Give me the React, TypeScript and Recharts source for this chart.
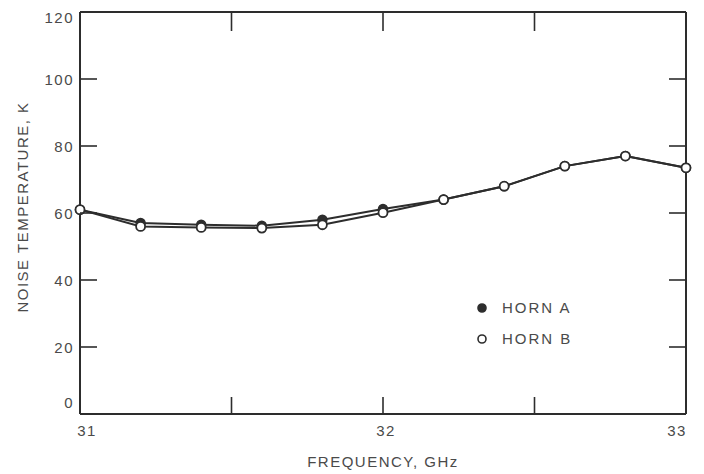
import React from 'react';
import { LineChart, Line, XAxis, YAxis, Legend } from 'recharts';

// ---- data ----
const frequencyGHz = [31.0, 31.2, 31.4, 31.6, 31.8, 32.0, 32.2, 32.4, 32.6, 32.8, 33.0];
const hornA = [61, 57, 56.5, 56.2, 58, 61.2, 64, 68, 74, 77, 73.5];
const hornB = [61, 56, 55.7, 55.5, 56.5, 60.1, 64, 68, 74, 77, 73.5];
const seriesNames = ['HORN A', 'HORN B'];
const xTickValues = [31, 31.5, 32, 32.5, 33];
const xLabelValues = [31, 32, 33];
const yTickValues = [0, 20, 40, 60, 80, 100, 120];
const xTitle = 'FREQUENCY, GHz';
const yTitle = 'NOISE TEMPERATURE, K';

const data = frequencyGHz.map((f, i) => ({ f, a: hornA[i], b: hornB[i] }));

// ---- styles ----
const INK = '#2d2d2d';
const TEXT = '#4a4a4a';
const FONT = '"Liberation Sans", Arial, Helvetica, sans-serif';
const TICK = 17;
const markerFill: Record<string, string> = { 'HORN A': INK, 'HORN B': '#ffffff' };
const axisLineStyle = { stroke: INK, strokeWidth: 2 };

const textStyle = { fontFamily: FONT, fontSize: 15, fill: TEXT, letterSpacing: 1.5 } as const;

function BottomTick(props: any) {
  const { x, y, payload } = props;
  const v = payload.value;
  const labelled = xLabelValues.includes(v);
  const dx = v === 31 ? 7 : v === 33 ? -9 : 3;
  return (
    <g>
      <path d={`M${x},${y}V${y - TICK}`} stroke={INK} strokeWidth={1.6} fill="none" />
      {labelled ? (
        <text x={x + dx} y={y + 22} textAnchor="middle" style={textStyle}>
          {v}
        </text>
      ) : null}
    </g>
  );
}

function TopTick(props: any) {
  const { x, y } = props;
  return <path d={`M${x},${y}V${y + TICK + 2}`} stroke={INK} strokeWidth={1.6} fill="none" />;
}

function LeftTick(props: any) {
  const { x, y, payload } = props;
  const v = payload.value;
  const dy = v === 0 ? -6.5 : v === 120 ? 10.5 : 5.5;
  return (
    <g>
      <path d={`M${x},${y}H${x + TICK}`} stroke={INK} strokeWidth={1.6} fill="none" />
      <text x={x - 6} y={y + dy} textAnchor="end" style={textStyle}>
        {v}
      </text>
    </g>
  );
}

function RightTick(props: any) {
  const { x, y } = props;
  return <path d={`M${x},${y}H${x - TICK}`} stroke={INK} strokeWidth={1.6} fill="none" />;
}

function YTitle(props: any) {
  const vb = props.viewBox || { x: 0, y: 12, width: 80, height: 402 };
  const cx = 22;
  const cy = vb.y + vb.height / 2 - 6;
  return (
    <text
      x={cx}
      y={cy}
      transform={`rotate(-90 ${cx} ${cy})`}
      textAnchor="middle"
      dominantBaseline="central"
      style={textStyle}
    >
      {yTitle}
    </text>
  );
}

function XTitle(props: any) {
  const vb = props.viewBox || { x: 80, y: 414, width: 606, height: 60 };
  const cx = vb.x + vb.width / 2;
  return (
    <text x={cx} y={467} textAnchor="middle" style={textStyle}>
      {xTitle}
    </text>
  );
}

function LegendContent(props: any) {
  const payload = props.payload || [];
  return (
    <div style={{ fontFamily: FONT, fontSize: 15, color: TEXT, letterSpacing: 2 }}>
      {payload.map((e: any, i: number) => (
        <div key={i} style={{ display: 'flex', alignItems: 'center', height: 31 }}>
          <svg width={20} height={12} style={{ display: 'block' }}>
            <circle cx={10} cy={6} r={4} fill={markerFill[e.value]} stroke={INK} strokeWidth={1.6} />
          </svg>
          <span style={{ marginLeft: 10, lineHeight: '31px' }}>{e.value}</span>
        </div>
      ))}
    </div>
  );
}

export default function App() {
  return (
    <div style={{ position: 'absolute', left: 0, top: 0, width: 704, height: 474, background: '#fff' }}>
      <LineChart width={704} height={474} data={data} margin={{ top: 11, right: 17, bottom: 0, left: 0 }}>
        <XAxis
          dataKey="f"
          type="number"
          domain={[31, 33]}
          ticks={xTickValues}
          interval={0}
          height={60}
          tickSize={0}
          tickMargin={0}
          tick={BottomTick}
          axisLine={axisLineStyle}
          tickLine={false}
          label={<XTitle />}
        />
        <XAxis
          xAxisId="top"
          dataKey="f"
          orientation="top"
          type="number"
          domain={[31, 33]}
          ticks={xTickValues}
          interval={0}
          height={1}
          tickSize={0}
          tickMargin={0}
          tick={TopTick}
          axisLine={axisLineStyle}
          tickLine={false}
        />
        <YAxis
          type="number"
          domain={[0, 120]}
          ticks={yTickValues}
          interval={0}
          width={80}
          tickSize={0}
          tickMargin={0}
          tick={LeftTick}
          axisLine={axisLineStyle}
          tickLine={false}
          label={<YTitle />}
        />
        <YAxis
          yAxisId="right"
          orientation="right"
          type="number"
          domain={[0, 120]}
          ticks={yTickValues}
          interval={0}
          width={1}
          tickSize={0}
          tickMargin={0}
          tick={RightTick}
          axisLine={axisLineStyle}
          tickLine={false}
        />
        <Legend
          layout="vertical"
          align="center"
          verticalAlign="middle"
          content={<LegendContent />}
          wrapperStyle={{ position: 'absolute', left: 472, top: 292, width: 150, height: 62 }}
        />
        <Line
          xAxisId="top"
          yAxisId="right"
          dataKey="a"
          name={seriesNames[0]}
          stroke={INK}
          strokeWidth={2}
          dot={{ r: 4.5, fill: INK, stroke: INK, strokeWidth: 1.5 }}
          isAnimationActive={false}
        />
        <Line
          dataKey="b"
          name={seriesNames[1]}
          stroke={INK}
          strokeWidth={2}
          dot={{ r: 4.5, fill: '#ffffff', stroke: INK, strokeWidth: 1.8 }}
          isAnimationActive={false}
        />
      </LineChart>
    </div>
  );
}
